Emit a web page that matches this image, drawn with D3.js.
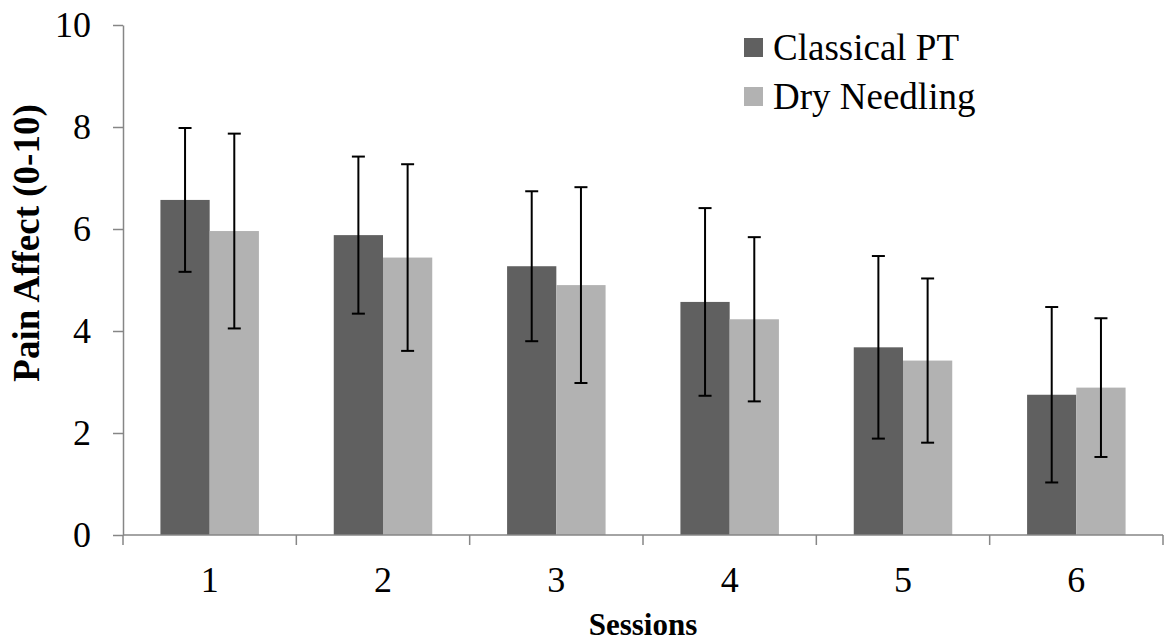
<!DOCTYPE html>
<html lang="en">
<head>
<meta charset="utf-8">
<title>Pain Affect by Session</title>
<script src="https://d3js.org/d3.v7.min.js"></script>
<style>
  body { margin: 0; background: #fff; }
  svg { display: block; font-family: "Liberation Serif", "Times New Roman", serif; }
  .axis path, .axis line { stroke: #868686; stroke-width: 1.5; }
  .axis text { font-family: "Liberation Serif", "Times New Roman", serif; font-size: 36px; fill: #000; }
  .legend text { font-family: "Liberation Serif", "Times New Roman", serif; font-size: 37px; fill: #000; }
</style>
</head>
<body>
<div id="frame"></div>
<script>
// data
const sessions = ["1", "2", "3", "4", "5", "6"];
const seriesNames = ["Classical PT", "Dry Needling"];
const classicalMean = [6.57, 5.88, 5.27, 4.57, 3.68, 2.75];
const classicalSD   = [1.41, 1.54, 1.47, 1.84, 1.79, 1.72];
const needlingMean  = [5.96, 5.44, 4.90, 4.23, 3.42, 2.89];
const needlingSD    = [1.91, 1.83, 1.92, 1.61, 1.61, 1.36];
const yTicks = [0, 2, 4, 6, 8, 10];

const colors = ["#606060", "#b2b2b2"];
const W = 1164, H = 642;
const margin = {top: 25, right: 1, bottom: 107, left: 123};

const svg = d3.select("#frame").append("svg")
  .attr("width", W)
  .attr("height", H);

const x0 = d3.scaleBand()
  .domain(sessions)
  .range([margin.left, W - margin.right])
  .padding(0);

const x1 = d3.scaleBand()
  .domain(d3.range(seriesNames.length))
  .range([0, x0.bandwidth()])
  .paddingInner(0)
  .paddingOuter(0.76);

const y = d3.scaleLinear()
  .domain([0, 10])
  .range([H - margin.bottom, margin.top]);

// rows built from the arrays
const rows = sessions.map((s, i) => ({
  session: s,
  vals: [
    {k: 0, mean: classicalMean[i], sd: classicalSD[i]},
    {k: 1, mean: needlingMean[i], sd: needlingSD[i]}
  ]
}));

const groups = svg.selectAll("g.group")
  .data(rows)
  .enter()
  .append("g")
  .attr("class", "group")
  .attr("transform", d => "translate(" + x0(d.session) + ",0)");

groups.selectAll("rect")
  .data(d => d.vals)
  .enter()
  .append("rect")
  .attr("x", d => x1(d.k))
  .attr("y", d => y(d.mean))
  .attr("width", x1.bandwidth())
  .attr("height", d => y(0) - y(d.mean))
  .attr("fill", d => colors[d.k]);

// error bars
const capW = 6.5;
const err = groups.selectAll("g.err")
  .data(d => d.vals)
  .enter()
  .append("g")
  .attr("class", "err")
  .attr("stroke", "#000")
  .attr("stroke-width", 2);

err.append("line")
  .attr("x1", d => x1(d.k) + x1.bandwidth() / 2)
  .attr("x2", d => x1(d.k) + x1.bandwidth() / 2)
  .attr("y1", d => y(d.mean + d.sd))
  .attr("y2", d => y(d.mean - d.sd));

[1, -1].forEach(sign => {
  err.append("line")
    .attr("x1", d => x1(d.k) + x1.bandwidth() / 2 - capW)
    .attr("x2", d => x1(d.k) + x1.bandwidth() / 2 + capW)
    .attr("y1", d => y(d.mean + sign * d.sd))
    .attr("y2", d => y(d.mean + sign * d.sd));
});

// y axis
svg.append("g")
  .attr("class", "axis")
  .attr("transform", "translate(" + margin.left + ",0)")
  .call(d3.axisLeft(y).tickValues(yTicks).tickSize(10).tickSizeOuter(0).tickPadding(22));

// x axis, ticks on the category boundaries
const xAxis = svg.append("g")
  .attr("class", "axis")
  .attr("transform", "translate(0," + y(0) + ")");

xAxis.append("line")
  .attr("x1", margin.left)
  .attr("x2", W - margin.right)
  .attr("y1", 0)
  .attr("y2", 0);

const bounds = sessions.map(s => x0(s)).concat([x0(sessions[sessions.length - 1]) + x0.step()]);
xAxis.selectAll("line.tick")
  .data(bounds)
  .enter()
  .append("line")
  .attr("class", "tick")
  .attr("x1", d => d)
  .attr("x2", d => d)
  .attr("y1", 0)
  .attr("y2", 10);

xAxis.selectAll("text")
  .data(sessions)
  .enter()
  .append("text")
  .attr("x", d => x0(d) + x0.bandwidth() / 2)
  .attr("y", 57)
  .attr("text-anchor", "middle")
  .text(d => d);

// axis titles
svg.append("text")
  .attr("transform", "translate(39,243) rotate(-90)")
  .attr("text-anchor", "middle")
  .attr("font-weight", "bold")
  .attr("font-size", 37)
  .text("Pain Affect (0-10)");

svg.append("text")
  .attr("x", (margin.left + W - margin.right) / 2)
  .attr("y", 635)
  .attr("text-anchor", "middle")
  .attr("font-weight", "bold")
  .attr("font-size", 31)
  .text("Sessions");

// legend
const legend = svg.append("g")
  .attr("class", "legend")
  .attr("transform", "translate(744,38)");

const items = legend.selectAll("g")
  .data(seriesNames)
  .enter()
  .append("g")
  .attr("transform", (d, i) => "translate(0," + i * 49 + ")");

items.append("rect")
  .attr("width", 19)
  .attr("height", 19)
  .attr("fill", (d, i) => colors[i]);

items.append("text")
  .attr("x", 29)
  .attr("y", 22)
  .text(d => d);
</script>
</body>
</html>
